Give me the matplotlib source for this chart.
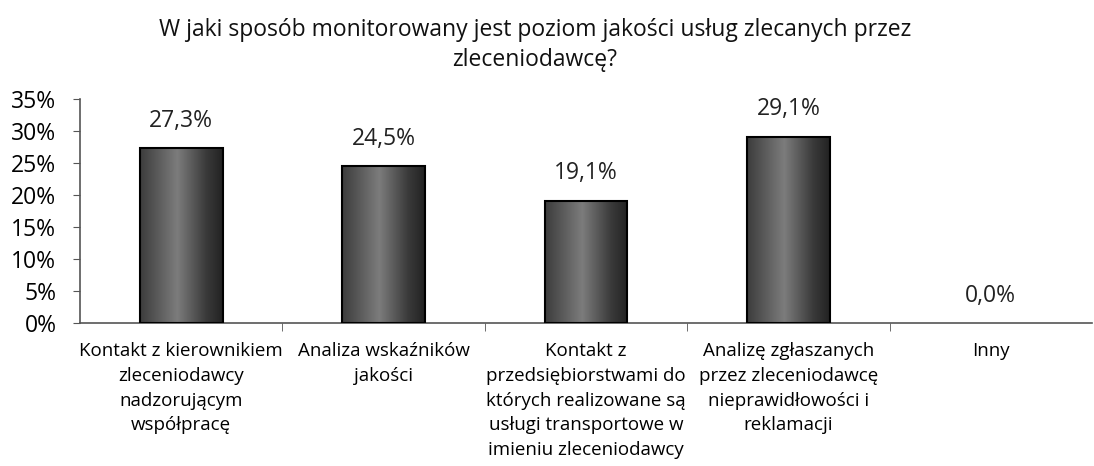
import numpy as np
import matplotlib.pyplot as plt
from matplotlib.colors import LinearSegmentedColormap
from matplotlib.ticker import FuncFormatter

categories = [
    "Kontakt z kierownikiem\nzleceniodawcy\nnadzorującym\nwspółpracę",
    "Analiza wskaźników\njakości",
    "Kontakt z\nprzedsiębiorstwami do\nktórych realizowane są\nusługi transportowe w\nimieniu zleceniodawcy",
    "Analizę zgłaszanych\nprzez zleceniodawcę\nnieprawidłowości i\nreklamacji",
    "Inny",
]
values = [27.3, 24.5, 19.1, 29.1, 0.0]
title = "W jaki sposób monitorowany jest poziom jakości usług zlecanych przez\nzleceniodawcę?"

plt.rcParams['font.family'] = ['Open Sans', 'DejaVu Sans']

fig = plt.figure(figsize=(10.94, 4.66), dpi=100)
ax = fig.add_axes([80 / 1094, (466 - 323) / 466, (1092 - 80) / 1094, 224 / 466])

# cylinder-like grey gradient
cmap = LinearSegmentedColormap.from_list(
    "bar", [(0, "#3c3c3c"), (0.45, "#7c7c7c"), (0.8, "#3a3a3a"), (1, "#222222")])
grad = np.linspace(0, 1, 256).reshape(1, -1)

x = np.arange(len(values))
bars = ax.bar(x, values, width=0.41, color="none", edgecolor="black", linewidth=1.5, zorder=3)
for b in bars:
    bx, by = b.get_x(), b.get_y()
    bw, bh = b.get_width(), b.get_height()
    if bh <= 0:
        b.set_visible(False)
        continue
    im = ax.imshow(grad, cmap=cmap, aspect="auto", extent=[bx, bx + bw, by, by + bh],
                   zorder=2, interpolation="bicubic")
    im.set_clip_path(b)

for xi, v in zip(x, values):
    ax.annotate(f"{v:.1f}%".replace(".", ","), (xi, v), xytext=(0, 11),
                textcoords="offset points", ha="center", va="bottom",
                fontsize=16.5, color="#222222")

ax.set_xlim(-0.5, len(values) - 0.5)
ax.set_ylim(0, 35)
ax.set_yticks(np.arange(0, 36, 5))
ax.yaxis.set_major_formatter(FuncFormatter(lambda v, p: f"{v:.0f}%"))
ax.set_xticks(x)
ax.set_xticklabels(categories, fontsize=13.5, linespacing=1.47)
ax.set_xticks(np.arange(0.5, len(values) - 0.5, 1), minor=True)
ax.tick_params(axis="x", which="major", length=0, pad=14)
ax.tick_params(axis="x", which="minor", length=6, color="#555555")
ax.tick_params(axis="y", length=5, color="#555555", labelsize=16.5, pad=12)

for s in ["top", "right"]:
    ax.spines[s].set_visible(False)
for s in ["left", "bottom"]:
    ax.spines[s].set_color("#555555")
    ax.spines[s].set_linewidth(1.2)

fig.text(535 / 1094, 1 - 45 / 466, title, ha="center", va="center", fontsize=16.5,
         linespacing=1.35, color="#111111")

fig.savefig("out.png", dpi=100)
